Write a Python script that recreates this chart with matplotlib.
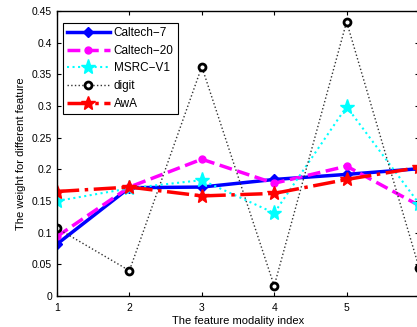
import matplotlib
matplotlib.use("Agg")
import matplotlib.pyplot as plt

plt.rcParams["font.family"] = ["Liberation Sans", "DejaVu Sans"]
plt.rcParams["font.size"] = 7.5

# data
modality = [1, 2, 3, 4, 5, 6]
caltech7 = [0.082, 0.171, 0.172, 0.184, 0.192, 0.201]
caltech20 = [0.094, 0.172, 0.216, 0.178, 0.205, 0.143]
msrc_v1 = [0.150, 0.170, 0.183, 0.131, 0.299, 0.146]
digit = [0.107, 0.040, 0.362, 0.016, 0.433, 0.045]
awa = [0.165, 0.172, 0.158, 0.162, 0.184, 0.203]
ticks_y = [0, 0.05, 0.1, 0.15, 0.2, 0.25, 0.3, 0.35, 0.4, 0.45]
ticks_y_labels = ["0", "0.05", "0.1", "0.15", "0.2", "0.25", "0.3", "0.35", "0.4", "0.45"]

fig = plt.figure(figsize=(4.17, 3.27), dpi=100)
# axes run slightly past the right edge, as in the cropped original
ax = fig.add_axes([57 / 417, (327 - 296) / 327, (419 - 57) / 417, (296 - 11) / 327])

ax.plot(modality, caltech7, color="blue", linestyle="-", linewidth=2.5,
        marker="D", markersize=5, label="Caltech\u22127")
ax.plot(modality, caltech20, color="magenta", linestyle="--", linewidth=2.5,
        marker="o", markersize=5, label="Caltech\u221220")
ax.plot(modality, msrc_v1, color="cyan", linestyle=":", linewidth=1.5,
        marker="*", markersize=11, label="MSRC\u2212V1")
ax.plot(modality, digit, color="#333333", linestyle=":", linewidth=1.0,
        marker="o", markersize=5, markerfacecolor="white", markeredgecolor="black",
        markeredgewidth=2, label="digit")
ax.plot(modality, awa, color="red", linestyle="-.", linewidth=2.5,
        marker="*", markersize=10, label="AwA")

ax.set_xlim(1, 6)
ax.set_ylim(0, 0.45)
ax.set_xticks(modality)
ax.set_yticks(ticks_y)
ax.set_yticklabels(ticks_y_labels)
ax.tick_params(direction="in", top=True, right=True, length=3, width=0.8)
ax.tick_params(axis="x", pad=5)
for s in ax.spines.values():
    s.set_linewidth(1.0)

ax.set_xlabel("The feature modality index", fontsize=8, labelpad=2)
ax.set_ylabel("The weight for different feature", fontsize=8, labelpad=4)

leg = ax.legend(loc="upper left", bbox_to_anchor=(6 / 362, 273 / 285), borderaxespad=0,
                fancybox=False, edgecolor="black", framealpha=1, fontsize=8.5,
                handlelength=3.6, borderpad=0.35, labelspacing=0.48, handletextpad=0.35)
leg.get_frame().set_linewidth(0.8)

fig.savefig("out.png", dpi=100)
